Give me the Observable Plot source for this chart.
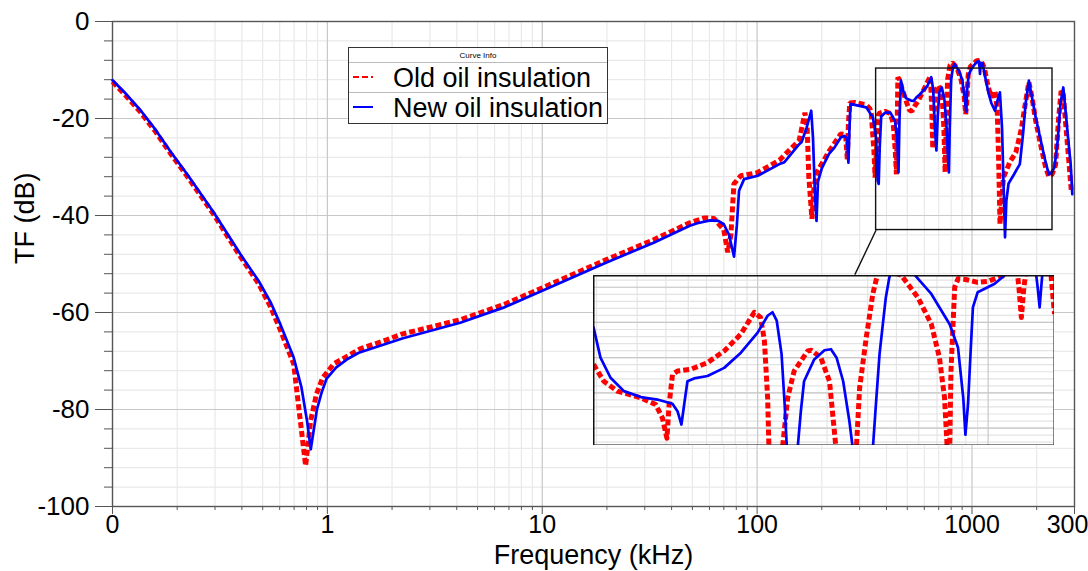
<!DOCTYPE html>
<html>
<head>
<meta charset="utf-8">
<script src="https://cdn.jsdelivr.net/npm/d3@7"></script>
<script src="https://cdn.jsdelivr.net/npm/@observablehq/plot@0.6"></script>
<style>
  html, body { margin: 0; padding: 0; background: white; overflow: hidden; }
  #wrap { position: relative; width: 1088px; height: 571px; overflow: hidden; }
  #main svg { display: block; }
  #inset { position: absolute; left: 593px; top: 275px; }
  #legend {
    position: absolute; left: 348px; top: 47px; width: 258px; height: 75px;
    border: 1px solid #333; background: white; font-family: "Liberation Sans", Arial, sans-serif; color: #000;
  }
  #legend .title { height: 14px; border-bottom: 1px solid #bbb; font-size: 8px; text-align: center; line-height: 15px; }
  #legend .row { position: relative; height: 29px; }
  #legend .row + .row { border-top: 1px solid #bbb; }
  #legend .row svg { position: absolute; left: 3px; top: 12px; }
  #legend .row span { position: absolute; left: 44px; top: -1px; font-size: 27px; line-height: 32px; white-space: nowrap; }
</style>
</head>
<body>
<div id="wrap">
  <div id="main"></div>
  <div id="inset"></div>
  <div id="legend">
    <div class="title">Curve Info</div>
    <div class="row"><svg width="22" height="4"><line x1="1" y1="2" x2="21" y2="2" stroke="#ff0000" stroke-width="2" stroke-dasharray="6,3"/></svg><span id="lg0"></span></div>
    <div class="row"><svg width="22" height="4"><line x1="1" y1="2" x2="21" y2="2" stroke="#0000ff" stroke-width="2"/></svg><span id="lg1"></span></div>
  </div>
</div>
<script>
// ---------- series names ----------
const seriesNames = ["Old oil insulation", "New oil insulation"];

// ---------- main chart: New oil insulation (blue) ----------
const newFreq = [0.1, 0.1149, 0.135, 0.1585, 0.1861, 0.2226, 0.296, 0.394, 0.479, 0.5432, 0.604, 0.697, 0.758, 0.804, 0.837, 0.894, 0.94, 0.99, 1.1, 1.23, 1.4, 2.25, 4.15, 6.6, 11.3, 19.9, 33, 48.6, 52.7, 60.5, 66, 70, 74, 78.1, 80.5, 82.4, 87, 100.7, 127, 134, 157, 161, 170, 178.6, 182, 186, 189, 192, 200, 216, 229, 245, 255, 262, 266, 269, 272, 285, 322, 346, 358, 364, 368, 372, 378, 394, 417, 438, 449, 455, 460, 467, 480, 493, 520, 535, 555, 573, 620, 646, 660, 672, 683, 692, 705, 724, 745, 762, 775, 781, 788, 800, 815, 830, 870, 900, 925, 940, 950, 965, 983, 1010, 1050, 1075, 1085, 1090, 1097, 1120, 1145, 1190, 1230, 1279, 1320, 1349, 1380, 1405, 1425, 1445, 1480, 1570, 1670, 1730, 1775, 1840, 1900, 1980, 2100, 2200, 2280, 2360, 2420, 2500, 2580, 2660, 2720, 2800, 2880, 2930];
const newTF = [-12.1, -14.8, -18.3, -22.3, -26.8, -31.5, -39.4, -48.0, -53.5, -57.8, -62.4, -69.3, -75.5, -82.3, -88.2, -80.0, -76.5, -73.7, -71.3, -69.7, -68.3, -65.3, -62.1, -59.0, -54.5, -49.7, -45.6, -42.1, -41.6, -41.0, -41.1, -41.8, -44.0, -48.5, -42.0, -34.9, -32.5, -31.8, -29.4, -29.0, -25.3, -24.9, -21.9, -18.4, -24.0, -36.0, -41.1, -33.0, -30.3, -27.3, -26.0, -23.9, -23.6, -24.2, -29.1, -22.0, -17.0, -17.2, -17.7, -19.8, -24.0, -32.8, -33.5, -26.0, -19.6, -18.8, -18.8, -20.5, -24.0, -31.1, -20.0, -12.2, -14.5, -15.8, -16.3, -16.4, -15.5, -15.0, -13.3, -11.5, -14.0, -22.0, -26.6, -20.0, -14.5, -13.6, -16.3, -22.0, -29.0, -31.1, -22.0, -12.0, -9.5, -8.8, -10.2, -12.0, -16.0, -18.6, -14.0, -11.0, -10.2, -9.3, -8.4, -8.2, -9.5, -10.8, -8.5, -8.6, -10.8, -14.5, -16.8, -18.4, -16.0, -14.6, -22.0, -35.0, -44.5, -37.0, -33.4, -31.5, -29.4, -23.0, -17.0, -12.2, -15.5, -19.8, -25.0, -29.0, -31.5, -31.0, -30.1, -25.0, -17.0, -13.6, -18.0, -24.0, -29.5, -35.6];

// ---------- main chart: Old oil insulation (red, dashed) ----------
const oldFreq = [0.1, 0.1149, 0.135, 0.1585, 0.1861, 0.2226, 0.296, 0.394, 0.479, 0.5432, 0.604, 0.697, 0.736, 0.792, 0.836, 0.89, 0.95, 1.07, 1.42, 1.9, 2.2, 4.15, 6.6, 11.3, 19.9, 33, 48.6, 57, 63, 70, 73, 75.5, 78, 84, 100, 127, 157, 167, 171, 174, 180, 184, 190, 216, 245, 258, 263, 266, 270, 285, 322, 335, 340, 350, 354, 360, 368, 394, 417, 430, 440, 445, 449, 452, 460, 470, 493, 510, 525, 540, 560, 590, 620, 640, 650, 657, 664, 680, 700, 725, 740, 750, 758, 770, 790, 810, 850, 890, 920, 935, 945, 960, 983, 1050, 1100, 1140, 1190, 1230, 1280, 1310, 1330, 1350, 1370, 1400, 1500, 1600, 1700, 1770, 1840, 1900, 1980, 2100, 2200, 2280, 2360, 2450, 2530, 2600, 2660, 2740, 2820, 2900];
const oldTF = [-12.4, -15.2, -18.7, -22.7, -27.2, -31.9, -39.8, -48.5, -54.1, -58.8, -63.6, -70.6, -79.6, -91.6, -82.3, -76.8, -73.5, -70.6, -67.5, -65.6, -64.5, -61.5, -58.4, -53.9, -49.1, -45.0, -41.5, -40.5, -40.6, -43.0, -47.6, -44.0, -33.5, -31.8, -31.2, -28.6, -24.5, -18.8, -22.0, -32.0, -40.7, -34.0, -31.0, -26.8, -23.2, -23.3, -28.5, -21.0, -16.8, -16.7, -17.2, -18.0, -19.0, -27.0, -32.2, -26.0, -19.0, -18.5, -19.0, -21.0, -27.0, -31.5, -20.0, -11.5, -12.0, -13.5, -16.3, -18.2, -18.5, -17.5, -16.5, -14.5, -12.5, -11.3, -18.0, -26.2, -20.0, -14.0, -13.2, -14.8, -22.0, -31.1, -22.0, -12.0, -9.0, -8.5, -9.5, -12.0, -15.5, -19.1, -17.0, -11.0, -9.3, -8.1, -8.0, -9.5, -13.5, -15.6, -14.3, -18.0, -28.0, -41.8, -38.0, -32.2, -29.0, -27.0, -22.0, -17.0, -12.5, -15.5, -20.5, -26.0, -30.0, -32.0, -31.5, -29.5, -20.0, -14.3, -15.0, -22.0, -28.5, -35.0];

// ---------- zoom box and connector (main chart data units) ----------
const zoomBoxFreq = [358, 2370];
const zoomBoxTF = [-9.7, -43.0];
const connectorFreq = [358, 285];
const connectorTF = [-43.0, -52.2];

// ---------- inset data ----------
const insetNewFreq = [19.4, 20.8, 23.0, 26.3, 31.1, 36.7, 42.7, 44.9, 46.7, 48.0, 49.6, 53.0, 60.6, 71.6, 84.6, 100, 110.5, 116, 121, 127, 131, 134, 149, 154, 159, 176, 195, 208, 220, 235, 250, 259, 316, 327, 338, 350, 360, 372, 385, 480, 567, 681, 740, 780, 797, 818, 840, 859, 901, 1068, 1180, 1300, 1600, 1640, 1673, 1700, 1730, 1941];
const insetNewTF = [-31.4, -40.0, -45.7, -49.5, -51.2, -51.9, -53.1, -55.2, -59.0, -53.3, -46.7, -45.9, -45.2, -42.9, -38.6, -32.9, -28.1, -27.1, -29.5, -39.0, -53.3, -66, -66, -55.2, -46.7, -40.5, -37.9, -37.6, -40.0, -46.7, -58.0, -66, -66, -52.0, -39.0, -30.0, -22.9, -17.5, -14, -16.5, -21.9, -30.5, -37.1, -51.4, -61.9, -53.3, -38.0, -25.7, -21.4, -19.0, -16.6, -14, -14, -20.0, -25.7, -20.0, -14, -14];
const insetOldFreq = [19.4, 21.5, 24.6, 31.1, 36.1, 38.6, 40.4, 41.3, 42.7, 44.9, 51.3, 60.6, 71.6, 84.6, 96.7, 103, 107, 110.5, 112, 128, 135, 144, 165, 171, 188, 205, 219, 268, 277, 296, 316, 338, 420, 496, 567, 615, 647, 665, 681, 690, 716, 740, 800, 900, 1000, 1100, 1180, 1250, 1330, 1360, 1394, 1430, 1470, 1875, 1941];
const insetOldTF = [-41.9, -46.7, -49.5, -51.4, -53.3, -57.1, -62.9, -53.3, -44.8, -43.8, -43.3, -41.4, -38.1, -33.3, -27.1, -28.6, -35.2, -51.4, -66, -66, -51.4, -43.8, -38.1, -37.9, -40.0, -46.7, -66, -66, -48.6, -34.3, -21.9, -14, -16.6, -22.9, -30.5, -40.0, -51.4, -66, -66, -43.8, -20.0, -17.6, -17.8, -18.6, -18.3, -17.3, -16.6, -14, -14, -20.0, -28.6, -20.0, -14, -16.6, -27.6];

// ---------- axes ----------
const xMajorTicks = [0.1, 1, 10, 100, 1000, 3000];
const xTickLabels = ["0", "1", "10", "100", "1000", "3000"];
const yMajorTicks = [0, -20, -40, -60, -80, -100];
const yTickLabels = ["0", "-20", "-40", "-60", "-80", "-100"];
const xLabel = "Frequency (kHz)";
const yLabel = "TF (dB)";

const decades = [0.1, 1, 10, 100, 1000];
const mult = [2, 3, 4, 5, 6, 7, 8, 9];
const xMinorTicks = decades.flatMap(d => mult.map(m => +(d * m).toPrecision(3))).filter(v => v < 3000);
const yMinorTicks = d3.range(0, -101, -4);

const insetXDomain = [19.4, 1941];
const insetYDomain = [-64.95, -16.66];
const insetMajorX = [100, 1000];
const insetMinorX = [10, 100, 1000].flatMap(d => mult.map(m => d * m)).filter(v => v > 19.4 && v < 1941);
const insetMinorY = d3.range(-64, -16, 2);
const insetMajorY = [-60, -50, -40, -30, -20];

// ---------- build tables ----------
const oldData = oldFreq.map((f, i) => ({f, v: oldTF[i]}));
const newData = newFreq.map((f, i) => ({f, v: newTF[i]}));
const insOld = insetOldFreq.map((f, i) => ({f, v: insetOldTF[i]}));
const insNew = insetNewFreq.map((f, i) => ({f, v: insetNewTF[i]}));

const font = "'Liberation Sans', Arial, sans-serif";
const xFmt = d => xTickLabels[xMajorTicks.indexOf(d)] ?? "";
const yFmt = d => yTickLabels[yMajorTicks.indexOf(d)] ?? "";
const redDash = "6,3";

const main = Plot.plot({
  width: 1088, height: 571,
  marginLeft: 112, marginRight: 14, marginTop: 21, marginBottom: 65,
  x: {type: "log", domain: [0.1, 3000]},
  y: {domain: [-100, 0]},
  style: {fontFamily: font, background: "white", color: "black", overflow: "visible"},
  marks: [
    Plot.gridX(xMinorTicks, {stroke: "#e9e9e9", strokeOpacity: 1, strokeWidth: 1.2}),
    Plot.gridY(yMinorTicks, {stroke: "#e9e9e9", strokeOpacity: 1, strokeWidth: 1.2}),
    Plot.gridX(xMajorTicks.slice(1, 5), {stroke: "#c8c8c8", strokeOpacity: 1, strokeWidth: 1.2}),
    Plot.gridY(yMajorTicks, {stroke: "#c8c8c8", strokeOpacity: 1, strokeWidth: 1.2}),
    Plot.axisX(xMinorTicks, {tickSize: 4, tickFormat: () => "", label: null, stroke: "#555"}),
    Plot.axisX(xMajorTicks, {tickSize: 8, tickPadding: 1, tickFormat: xFmt, fontSize: 25, label: null, stroke: "#555"}),
    Plot.axisY(yMinorTicks, {tickSize: 8, tickFormat: () => "", label: null, stroke: "#555"}),
    Plot.axisY(yMajorTicks, {tickSize: 17, tickPadding: 6, tickFormat: yFmt, fontSize: 26, label: null, stroke: "#555"}),
    Plot.frame({stroke: "#555", strokeWidth: 1.4}),
    Plot.text([xLabel], {frameAnchor: "bottom", dy: 57, fontSize: 27, fill: "black"}),
    Plot.text([yLabel], {frameAnchor: "left", dx: -87, rotate: -90, fontSize: 27, fill: "black"}),
    Plot.line(oldData, {x: "f", y: "v", stroke: "#ff0000", strokeWidth: 5, strokeDasharray: redDash, strokeLinejoin: "miter", strokeLinecap: "butt"}),
    Plot.line(newData, {x: "f", y: "v", stroke: "#0000ff", strokeWidth: 2.7}),
    Plot.rect([0], {x1: () => zoomBoxFreq[0], x2: () => zoomBoxFreq[1], y1: () => zoomBoxTF[0], y2: () => zoomBoxTF[1], fill: "none", stroke: "#111", strokeWidth: 1.4}),
    Plot.link([0], {x1: () => connectorFreq[0], y1: () => connectorTF[0], x2: () => connectorFreq[1], y2: () => connectorTF[1], stroke: "#111", strokeWidth: 1.4})
  ]
});
document.getElementById("main").append(main);

const inset = Plot.plot({
  width: 461, height: 170,
  marginLeft: 0, marginRight: 0, marginTop: 0, marginBottom: 0,
  x: {type: "log", domain: insetXDomain, axis: null},
  y: {domain: insetYDomain, axis: null},
  style: {background: "white", overflow: "hidden"},
  marks: [
    Plot.gridX(insetMinorX, {stroke: "#e6e6e6", strokeOpacity: 1, strokeWidth: 1.2}),
    Plot.gridY(insetMinorY, {stroke: "#e3e3e3", strokeOpacity: 1, strokeWidth: 1.2}),
    Plot.gridX(insetMajorX, {stroke: "#c8c8c8", strokeOpacity: 1, strokeWidth: 1.2}),
    Plot.gridY(insetMajorY, {stroke: "#c8c8c8", strokeOpacity: 1, strokeWidth: 1.2}),
    Plot.line(insOld, {x: "f", y: "v", stroke: "#ff0000", strokeWidth: 5, strokeDasharray: redDash, strokeLinecap: "butt"}),
    Plot.line(insNew, {x: "f", y: "v", stroke: "#0000ff", strokeWidth: 2.7}),
    Plot.frame({stroke: "#111", strokeWidth: 2})
  ]
});
document.getElementById("inset").append(inset);

document.getElementById("lg0").textContent = seriesNames[0];
document.getElementById("lg1").textContent = seriesNames[1];
</script>
</body>
</html>
